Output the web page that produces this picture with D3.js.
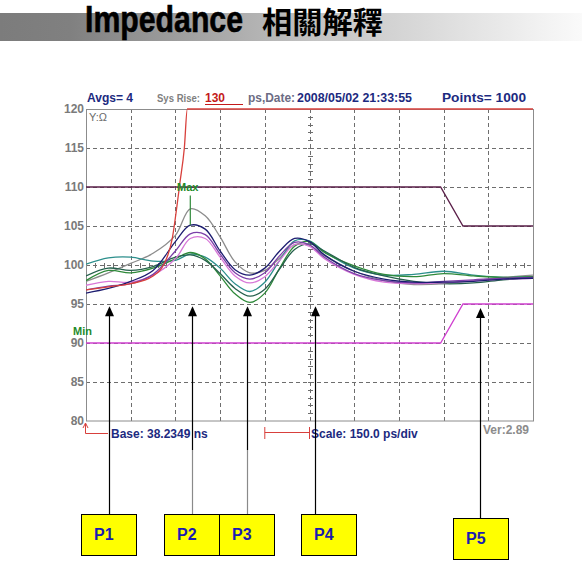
<!DOCTYPE html>
<html>
<head>
<meta charset="utf-8">
<script src="https://cdn.jsdelivr.net/npm/d3@7"></script>
<style>
  body { margin: 0; background: #fff; }
  text { font-family: "Liberation Sans", Arial, sans-serif; font-weight: bold; }
</style>
</head>
<body>
<svg id="chart" width="582" height="574"></svg>
<script>
// time axis in ps (150 ps/div, 10 div), impedance in ohm
const times = [0, 75, 150, 225, 300, 350, 400, 450, 500, 550, 600, 650, 700, 750, 800, 900, 1000, 1100, 1200, 1300, 1400, 1500];

const grayZ    = [97.9, 99.0, 100.2, 101.5, 103.8, 107.2, 106.3, 103.6, 100.4, 99.0, 99.3, 100.9, 102.6, 102.5, 101.2, 99.2, 98.0, 97.5, 97.6, 98.0, 98.4, 98.7];
const navyZ    = [96.4, 97.0, 97.9, 99.3, 103.0, 105.1, 104.6, 101.8, 99.4, 98.7, 99.6, 101.8, 103.4, 103.0, 101.3, 99.2, 98.2, 97.8, 97.8, 97.9, 98.2, 98.3];
const purpleZ  = [96.8, 97.3, 97.6, 98.8, 101.8, 104.0, 103.9, 101.4, 99.0, 98.2, 99.0, 101.2, 102.9, 102.6, 101.0, 98.9, 98.0, 97.7, 97.9, 98.1, 98.3, 98.4];
const magentaZ = [97.4, 97.9, 97.8, 98.7, 100.8, 103.4, 103.4, 101.0, 98.6, 97.7, 98.5, 100.6, 102.6, 102.4, 100.8, 98.8, 97.8, 97.6, 97.7, 98.0, 98.2, 98.3];
const greenZ   = [98.0, 99.3, 99.0, 99.6, 100.8, 101.6, 100.8, 98.6, 96.3, 95.2, 96.4, 99.6, 102.4, 103.0, 101.6, 99.9, 98.8, 98.5, 98.9, 98.6, 98.4, 98.5];
const dkGreenZ = [98.6, 99.6, 99.3, 99.8, 101.0, 101.3, 100.6, 98.9, 97.0, 96.0, 96.9, 99.5, 102.0, 102.7, 101.8, 99.7, 98.6, 97.9, 97.6, 97.7, 98.1, 98.4];
const tealZ    = [100.1, 100.9, 101.0, 100.5, 100.6, 101.4, 101.0, 99.6, 97.6, 96.6, 97.8, 100.6, 103.1, 103.1, 101.7, 99.6, 98.7, 98.8, 99.2, 98.7, 98.4, 98.5];

// system rise step (TDR incident edge)
const redT = [0, 75, 150, 225, 260, 290, 305, 315, 330, 340, 1500];
const redZ = [96.8, 97.2, 97.6, 98.6, 100.0, 103.5, 107.5, 110.5, 115.0, 120.0, 120.0];

// limit masks
const limitT = [0, 1190, 1265, 1500];
const upperZ = [110, 110, 105, 105];
const lowerZ = [90, 90, 95, 95];

const yTicks = [80, 85, 90, 95, 100, 105, 110, 115, 120];
const xTicks = [150, 300, 450, 600, 750, 900, 1050, 1200, 1350];

// markers under the plot
const pLabels = ['P1', 'P2', 'P3', 'P4', 'P5'];
const pTimes = [77, 356, 540, 768, 1322];
const pTipZ = [94.7, 94.7, 94.7, 94.7, 94.5];
const pBoxLeft = [81, 164, 219, 301, 453];
const pBoxTop = [514, 514, 514, 514, 518];

const svg = d3.select('#chart');

const x = d3.scaleLinear().domain([0, 1500]).range([86, 533]);
const y = d3.scaleLinear().domain([80, 120]).range([421, 109]);

/* --------- TITLE BAR --------- */
const grad = svg.append('defs').append('linearGradient')
    .attr('id', 'bar').attr('x1', 0).attr('x2', 1);
grad.append('stop').attr('offset', 0).attr('stop-color', '#7c7c7c');
grad.append('stop').attr('offset', 0.12).attr('stop-color', '#808080');
grad.append('stop').attr('offset', 0.55).attr('stop-color', '#c4c4c4');
grad.append('stop').attr('offset', 1).attr('stop-color', '#fafafa');

svg.append('rect').attr('x', 0).attr('y', 13).attr('width', 582).attr('height', 28).attr('fill', 'url(#bar)');

svg.append('text').attr('x', 85).attr('y', 32)
    .attr('font-size', 36).attr('textLength', 158).attr('lengthAdjust', 'spacingAndGlyphs')
    .attr('fill', '#000').attr('stroke', '#000').attr('stroke-width', 0.6).text('Impedance');
svg.append('text').attr('x', 262).attr('y', 33)
    .style('font-family', '"Noto Sans CJK TC", "Noto Sans CJK SC", sans-serif')
    .attr('font-size', 29.5).attr('textLength', 121).attr('lengthAdjust', 'spacingAndGlyphs')
    .attr('fill', '#000').text('相關解釋');

/* --------- GRID --------- */
const grid = svg.append('g').attr('class', 'grid')
    .attr('stroke', '#6e6e6e').attr('stroke-width', 1).attr('stroke-dasharray', '4,3');

grid.selectAll('line.h').data(yTicks.filter(d => d > 80 && d < 120)).enter()
    .append('line').attr('class', 'h')
    .attr('x1', x(0)).attr('x2', x(1500))
    .attr('y1', d => Math.round(y(d)) + 0.5).attr('y2', d => Math.round(y(d)) + 0.5);

grid.selectAll('line.v').data(xTicks).enter()
    .append('line').attr('class', 'v')
    .attr('y1', y(120)).attr('y2', y(80))
    .attr('x1', d => Math.round(x(d)) + 0.5).attr('x2', d => Math.round(x(d)) + 0.5);

// minor ticks on the centre cross
const ticks = svg.append('g').attr('stroke', '#6e6e6e').attr('stroke-width', 1);
ticks.selectAll('line.cy').data(d3.range(81, 120, 1)).enter()
    .append('line').attr('class', 'cy')
    .attr('x1', Math.round(x(750)) - 2).attr('x2', Math.round(x(750)) + 3)
    .attr('y1', d => Math.round(y(d)) + 0.5).attr('y2', d => Math.round(y(d)) + 0.5);
ticks.selectAll('line.cx').data(d3.range(30, 1500, 30)).enter()
    .append('line').attr('class', 'cx')
    .attr('x1', d => Math.round(x(d)) + 0.5).attr('x2', d => Math.round(x(d)) + 0.5)
    .attr('y1', Math.round(y(100)) - 2).attr('y2', Math.round(y(100)) + 3);

// frame
svg.append('rect').attr('x', 86.5).attr('y', 109.5).attr('width', 447).attr('height', 311.5)
    .attr('fill', 'none').attr('stroke', '#8c8c8c').attr('stroke-width', 1);

/* --------- Y LABELS --------- */
svg.append('g').selectAll('text').data(yTicks).enter()
    .append('text')
    .attr('x', 84).attr('y', d => y(d)).attr('dy', '.35em')
    .attr('text-anchor', 'end').attr('font-size', 12).attr('fill', '#7a7a7a')
    .text(d => d);

svg.append('text').attr('x', 89).attr('y', 121).attr('font-size', 11)
    .style('font-weight', 'normal').attr('fill', '#6a6a6a').text('Y:Ω');

/* --------- TRACES --------- */
svg.append('clipPath').attr('id', 'plot').append('rect')
    .attr('x', 86).attr('y', 108).attr('width', 448).attr('height', 314);

const line = d3.line()
    .x(d => x(d[0])).y(d => y(d[1]))
    .curve(d3.curveCatmullRom.alpha(0.5));

const limitLine = d3.line().x(d => x(d[0])).y(d => y(d[1]));

const traces = [
    {color: '#8c8c8c', values: grayZ},
    {color: '#2c8f8c', values: tealZ},
    {color: '#2f8a3a', values: greenZ},
    {color: '#25604c', values: dkGreenZ},
    {color: '#d878d8', values: magentaZ},
    {color: '#7b3fa8', values: purpleZ},
    {color: '#1c1c70', values: navyZ}
];

const plot = svg.append('g').attr('clip-path', 'url(#plot)');

plot.append('path')
    .datum(limitT.map((t, i) => [t, upperZ[i]]))
    .attr('d', limitLine).attr('fill', 'none').attr('stroke', '#5a1f48').attr('stroke-width', 1.3);
plot.append('path')
    .datum(limitT.map((t, i) => [t, lowerZ[i]]))
    .attr('d', limitLine).attr('fill', 'none').attr('stroke', '#d040d0').attr('stroke-width', 1.3);

plot.selectAll('path.trace').data(traces).enter()
    .append('path').attr('class', 'trace')
    .attr('d', d => line(times.map((t, i) => [t, d.values[i]])))
    .attr('fill', 'none').attr('stroke', d => d.color).attr('stroke-width', 1.3);

plot.append('path')
    .datum(redT.map((t, i) => [t, redZ[i]]))
    .attr('d', d3.line().x(d => x(d[0])).y(d => y(d[1])).curve(d3.curveMonotoneX))
    .attr('fill', 'none').attr('stroke', '#d8403c').attr('stroke-width', 1.3);

/* --------- MAX / MIN --------- */
svg.append('line')
    .attr('x1', x(350)).attr('x2', x(350)).attr('y1', y(108.9)).attr('y2', y(105.1))
    .attr('stroke', '#2f8a3a').attr('stroke-width', 1.2);
svg.append('text').attr('x', 177).attr('y', 191).attr('font-size', 11).attr('fill', '#1f8a2a').text('Max');
svg.append('text').attr('x', 73).attr('y', 335).attr('font-size', 11).attr('fill', '#1f8a2a').text('Min');

/* --------- HEADER --------- */
function headText(tx, txt, color, size, len) {
    return svg.append('text').attr('x', tx).attr('y', 102).attr('font-size', size).attr('fill', color)
        .attr('textLength', len).attr('lengthAdjust', 'spacingAndGlyphs').text(txt);
}
headText(87, 'Avgs= 4', '#1c2a80', 12, 46);
headText(157, 'Sys Rise:', '#808080', 11, 43);
headText(205, '130', '#c41a1a', 12, 20);
svg.append('line').attr('x1', 205).attr('x2', 243).attr('y1', 104.5).attr('y2', 104.5)
    .attr('stroke', '#c41a1a').attr('stroke-width', 1.2);
headText(248, 'ps,Date:', '#6c6c84', 12, 47);
headText(297, '2008/05/02 21:33:55', '#1c2a80', 12, 115);
headText(442, 'Points= 1000', '#1c2a80', 13.5, 84);

/* --------- FOOTER --------- */
svg.append('path').attr('d', 'M85.5,424 V433.5 H108')
    .attr('fill', 'none').attr('stroke', '#d8403c').attr('stroke-width', 1);
svg.append('path').attr('d', 'M83,428 L85.5,423 L88,428').attr('fill', 'none').attr('stroke', '#d8403c');
svg.append('text').attr('x', 111).attr('y', 438).attr('font-size', 12).attr('fill', '#1c2a80').text('Base: 38.2349 ns');

svg.append('path').attr('d', `M${x(600)},432.5 H${x(750)} M${x(600)},427 V439 M${x(750)},427 V439`)
    .attr('fill', 'none').attr('stroke', '#d8403c').attr('stroke-width', 1);
svg.append('text').attr('x', 311).attr('y', 438).attr('font-size', 12).attr('fill', '#1c2a80').text('Scale: 150.0 ps/div');
svg.append('text').attr('x', 483).attr('y', 434).attr('font-size', 12).attr('fill', '#8c8c8c').text('Ver:2.89');

/* --------- P MARKERS --------- */
const marks = pLabels.map((label, i) => ({
    label: label, px: Math.round(x(pTimes[i])) + 0.5, tip: y(pTipZ[i]),
    left: pBoxLeft[i], top: pBoxTop[i], soft: label === 'P2' || label === 'P3'
}));

const mg = svg.append('g').selectAll('g').data(marks).enter().append('g');

mg.append('line')
    .attr('x1', d => d.px).attr('x2', d => d.px)
    .attr('y1', d => d.tip + 8).attr('y2', 450)
    .attr('stroke', '#000').attr('stroke-width', 1.2);
mg.append('line')
    .attr('x1', d => d.px).attr('x2', d => d.px)
    .attr('y1', 450).attr('y2', d => d.top)
    .attr('stroke', d => d.soft ? '#8a8a8a' : '#000').attr('stroke-width', 1.2);
mg.append('path')
    .attr('d', d => `M${d.px},${d.tip} L${d.px - 4.5},${d.tip + 10} L${d.px + 4.5},${d.tip + 10} Z`)
    .attr('fill', '#000');

mg.append('rect')
    .attr('x', d => d.left + 0.5).attr('y', d => d.top + 0.5)
    .attr('width', 55).attr('height', 41)
    .attr('fill', '#ffff00').attr('stroke', '#000').attr('stroke-width', 1);
mg.append('text')
    .attr('x', d => d.left + 13).attr('y', d => d.top + 26)
    .attr('font-size', 16).attr('fill', '#1c1cb0')
    .text(d => d.label);
</script>
</body>
</html>
